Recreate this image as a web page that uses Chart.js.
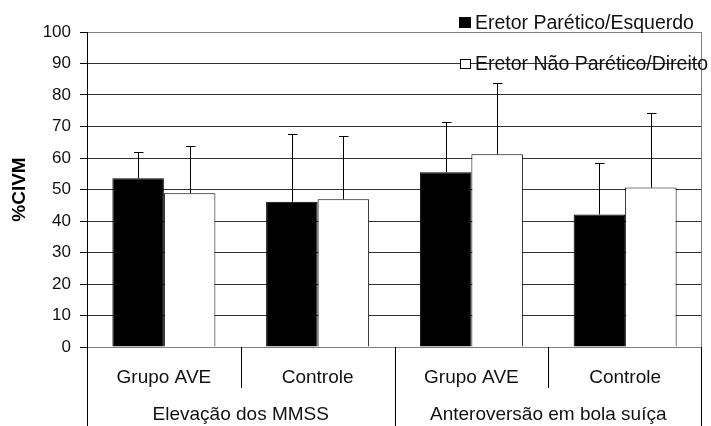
<!DOCTYPE html>
<html><head><meta charset="utf-8">
<script src="https://cdn.jsdelivr.net/npm/chart.js@4/dist/chart.umd.min.js"></script>
<style>html,body{margin:0;padding:0;background:#fff;}canvas{display:block}</style>
</head><body>
<canvas id="c" width="711" height="426"></canvas>
<script>
// ---- data ----
const categories = ['Grupo AVE', 'Controle', 'Grupo AVE', 'Controle'];
const groups = ['Elevação dos MMSS', 'Anteroversão em bola suíça'];
const groupSpans = [2, 2];
const seriesNames = ['Eretor Parético/Esquerdo', 'Eretor Não Parético/Direito'];
const pareticoMeans = [53.6, 46.1, 55.5, 42.1];
const pareticoSD = [8.4, 21.6, 16.0, 16.2];
const naoPareticoMeans = [48.8, 46.9, 61.2, 50.6];
const naoPareticoSD = [15.1, 20.0, 22.7, 23.8];
const yMin = 0, yMax = 100, yStep = 10;
const yTitle = '%CIVM';

const FONT = "'Liberation Sans', Arial, sans-serif";
const sdList = [pareticoSD, naoPareticoSD];

const errorBarPlugin = {
  id: 'errorBars',
  afterDatasetsDraw(chart) {
    const ctx = chart.ctx, y = chart.scales.y;
    ctx.save();
    ctx.strokeStyle = '#000'; ctx.lineWidth = 1;
    chart.data.datasets.forEach((ds, i) => {
      const meta = chart.getDatasetMeta(i);
      meta.data.forEach((bar, j) => {
        const base = y.getPixelForValue(ds.data[j]);
        const top = Math.round(y.getPixelForValue(ds.data[j] + sdList[i][j])) + 0.5;
        const x = Math.round(bar.x) + 0.5;
        ctx.beginPath();
        ctx.moveTo(x, base); ctx.lineTo(x, top);
        ctx.moveTo(x - 4.5, top); ctx.lineTo(x + 5, top);
        ctx.stroke();
      });
    });
    ctx.restore();
  }
};

const axisPlugin = {
  id: 'groupAxis',
  afterDraw(chart) {
    const ctx = chart.ctx, ca = chart.chartArea, xs = chart.scales.x;
    const H = chart.height;
    ctx.save();
    // right border
    ctx.strokeStyle = '#808080'; ctx.lineWidth = 1;
    const rx = Math.round(ca.right) - 0.5;
    ctx.beginPath(); ctx.moveTo(rx, ca.top); ctx.lineTo(rx, ca.bottom); ctx.stroke();
    // separators
    const groupBounds = [0];
    groupSpans.forEach(s => groupBounds.push(groupBounds[groupBounds.length - 1] + s));
    ctx.strokeStyle = '#000';
    for (let k = 0; k <= categories.length; k++) {
      let bx = Math.round(xs.getPixelForValue(k - 0.5)) + 0.5;
      if (k === categories.length) bx = rx;
      const isGroup = groupBounds.includes(k);
      ctx.beginPath();
      ctx.moveTo(bx, ca.bottom);
      ctx.lineTo(bx, isGroup ? H : ca.bottom + 41);
      ctx.stroke();
    }
    // category labels
    ctx.fillStyle = '#111';
    ctx.font = '19px ' + FONT;
    ctx.textAlign = 'center'; ctx.textBaseline = 'alphabetic';
    categories.forEach((c, j) => {
      ctx.fillText(c, xs.getPixelForValue(j), ca.bottom + 36);
    });
    groups.forEach((g, gi) => {
      const a = xs.getPixelForValue(groupBounds[gi] - 0.5);
      const b = xs.getPixelForValue(groupBounds[gi + 1] - 0.5);
      ctx.fillText(g, (a + b) / 2, ca.bottom + 73);
    });
    // legend
    ctx.font = '19.5px ' + FONT;
    ctx.textAlign = 'left';
    ctx.fillStyle = '#000';
    ctx.fillRect(459, 17, 12, 11);
    ctx.fillStyle = '#111';
    ctx.fillText(seriesNames[0], 475, 28.5);
    ctx.fillStyle = '#fff';
    ctx.fillRect(460, 59, 11, 10);
    ctx.strokeStyle = '#000';
    ctx.strokeRect(460.5, 59.5, 10, 9);
    ctx.fillStyle = '#111';
    ctx.fillText(seriesNames[1], 475, 69.5);
    ctx.restore();
  }
};

new Chart(document.getElementById('c'), {
  type: 'bar',
  data: {
    labels: categories,
    datasets: [
      { label: seriesNames[0], data: pareticoMeans, backgroundColor: '#000', borderColor: '#000', borderWidth: 1 },
      { label: seriesNames[1], data: naoPareticoMeans, backgroundColor: '#fff', borderColor: '#000', borderWidth: 1 }
    ]
  },
  options: {
    responsive: false,
    animation: false,
    events: [],
    categoryPercentage: 0.67,
    barPercentage: 1,
    layout: { padding: { top: 32, right: 9, bottom: 79, left: 0 } },
    plugins: { legend: { display: false }, tooltip: { enabled: false } },
    scales: {
      x: { display: false },
      y: {
        min: yMin, max: yMax,
        afterFit(scale) { scale.width = 87; },
        ticks: { stepSize: yStep, color: '#111', font: { family: FONT, size: 17 }, padding: 9 },
        grid: {
          color: ctx => (ctx.tick && (ctx.tick.value === yMin || ctx.tick.value === yMax)) ? '#808080' : '#333',
          tickColor: '#000', tickLength: 7
        },
        border: { color: '#000', width: 1 },
        title: { display: true, text: yTitle, color: '#000', font: { family: FONT, size: 19, weight: 'bold' }, padding: { top: 8, bottom: 0 } }
      }
    }
  },
  plugins: [errorBarPlugin, axisPlugin]
});
</script>
</body></html>
